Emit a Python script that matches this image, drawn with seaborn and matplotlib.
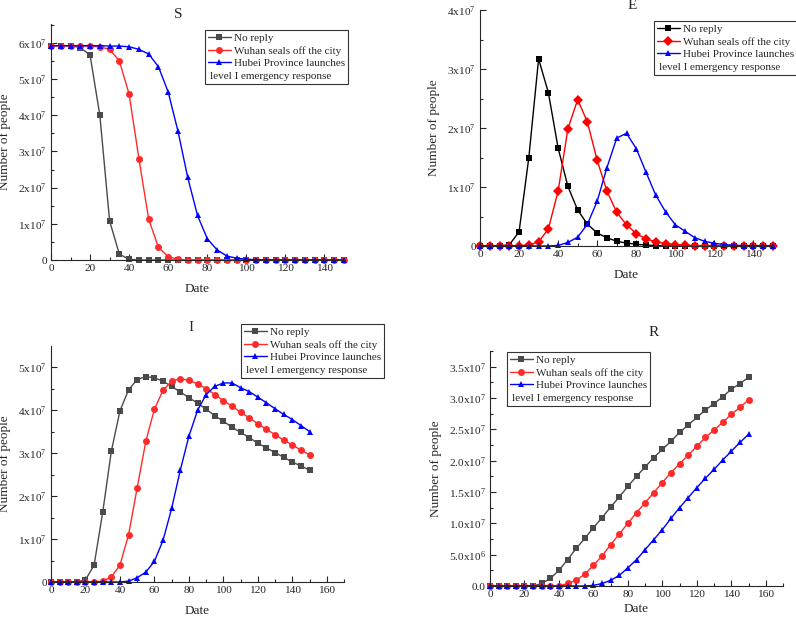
import numpy as np
import pandas as pd
import seaborn as sns
import matplotlib
matplotlib.use('Agg')
import matplotlib.pyplot as plt
from matplotlib.lines import Line2D
from matplotlib.ticker import MultipleLocator, FuncFormatter

# days
days = list(range(0, 155, 5))

# S panel (x1e7)
s_no = [5.92, 5.92, 5.92, 5.87, 5.66, 4.0, 1.08, 0.16, 0.02] + [0.0] * 22
s_wuhan = [5.92, 5.92, 5.92, 5.92, 5.91, 5.89, 5.82, 5.5, 4.58, 2.8, 1.13, 0.35, 0.09, 0.02] + [0.0] * 17
s_hubei = [5.92, 5.92, 5.92, 5.92, 5.92, 5.92, 5.91, 5.91, 5.89, 5.82, 5.69, 5.34, 4.64, 3.56,
           2.28, 1.23, 0.59, 0.28, 0.11, 0.05, 0.02, 0.01] + [0.0] * 9

# E panel
e_no = [0, 0, 0, 0.02, 0.24, 1.5, 3.17, 2.6, 1.66, 1.01, 0.61, 0.37, 0.22, 0.14, 0.08, 0.05,
        0.03, 0.015, 0.008] + [0.0] * 12
e_wuhan = [0, 0, 0, 0, 0, 0.02, 0.07, 0.29, 0.93, 1.99, 2.48, 2.1, 1.45, 0.93, 0.57, 0.36, 0.21,
           0.12, 0.07, 0.04, 0.025, 0.015, 0.008] + [0.0] * 8
e_hubei = [0] * 8 + [0.01, 0.06, 0.15, 0.37, 0.76, 1.33, 1.83, 1.91, 1.65, 1.25, 0.86, 0.58, 0.36,
                     0.25, 0.14, 0.08, 0.045, 0.025, 0.012, 0.006, 0.003, 0, 0]

# I panel
i_no = [0, 0, 0, 0, 0.05, 0.39, 1.62, 3.04, 3.98, 4.47, 4.71, 4.78, 4.75, 4.67, 4.55, 4.42, 4.29,
        4.16, 4.02, 3.87, 3.74, 3.6, 3.48, 3.36, 3.23, 3.12, 3.01, 2.9, 2.79, 2.7, 2.6]
i_wuhan = [0] * 6 + [0.02, 0.12, 0.39, 1.1, 2.19, 3.27, 4.02, 4.46, 4.67, 4.73, 4.69, 4.61, 4.5,
                     4.36, 4.22, 4.09, 3.95, 3.82, 3.68, 3.55, 3.43, 3.3, 3.19, 3.07, 2.96]
i_hubei = [0] * 9 + [0.02, 0.1, 0.23, 0.48, 0.97, 1.71, 2.6, 3.39, 3.99, 4.36, 4.55, 4.63, 4.63,
                     4.52, 4.43, 4.3, 4.17, 4.03, 3.9, 3.78, 3.64, 3.5]

# R panel
r_no = [0] * 6 + [0.04, 0.12, 0.25, 0.42, 0.6, 0.76, 0.93, 1.09, 1.26, 1.42, 1.59, 1.75, 1.9, 2.05,
                  2.18, 2.31, 2.45, 2.57, 2.69, 2.81, 2.91, 3.02, 3.14, 3.23, 3.33]
r_wuhan = [0] * 9 + [0.04, 0.09, 0.19, 0.33, 0.48, 0.66, 0.83, 1.0, 1.17, 1.33, 1.49, 1.65, 1.81,
                     1.95, 2.09, 2.23, 2.37, 2.49, 2.61, 2.74, 2.85, 2.97]
r_hubei = [0] * 12 + [0.01, 0.04, 0.09, 0.17, 0.29, 0.42, 0.58, 0.74, 0.9, 1.08, 1.25, 1.41, 1.57,
                      1.72, 1.86, 2.01, 2.15, 2.29, 2.42]

labels = ['No reply', 'Wuhan seals off the city', 'Hubei Province launches']
extra_label = 'level I emergency response'

sns.set_style('ticks')
plt.rcParams['font.family'] = ['Liberation Serif', 'DejaVu Serif']
plt.rcParams['mathtext.fontset'] = 'custom'
plt.rcParams['mathtext.rm'] = 'Liberation Serif'
plt.rcParams['mathtext.it'] = 'Liberation Serif:italic'

DPI = 100
fig = plt.figure(figsize=(7.96, 6.18), dpi=DPI)
W, H = 796.0, 618.0
LEG_FS = 8.0


def fmt_sci(dec):
    def f(v, pos):
        if abs(v) < 1:
            return '0.0' if dec else '0'
        e = int(np.floor(np.log10(abs(v)) + 1e-9))
        m = v / 10 ** e
        ms = ('%.1f' % m) if dec else ('%d' % round(m))
        return r'$\mathrm{%sx10^{%d}}$' % (ms, e)
    return FuncFormatter(f)


panels = [
    # name, series, box(px l,t,r,b), xlim, ylim, y major, y minor, dec, grey, red marker, title pos, legend pos, xlabel pad
    ('S', [s_no, s_wuhan, s_hubei], (51, 24, 344, 260), 150, 6.52e7, 1e7, 0.5e7, False, '#4a4a4a', 'o', (0.433, 1.042), (205, 30), 7),
    ('E', [e_no, e_wuhan, e_hubei], (480, 10, 773, 246), 150, 4.0e7, 1e7, 0.5e7, False, '#000000', 'D', (0.519, 1.02), (654, 21), 7),
    ('I', [i_no, i_wuhan, i_hubei], (51, 346, 344, 582), 170, 5.49e7, 1e7, 0.5e7, False, '#4a4a4a', 'o', (0.478, 1.08), (241, 324), 7),
    ('R', [r_no, r_wuhan, r_hubei], (490, 351, 783, 586), 170, 3.75e7, 0.5e7, 0.25e7, True, '#4a4a4a', 'o', (0.56, 1.077), (507, 352), 3),
]

red_col = '#ff2a2a'
blue_col = '#0000ff'

for name, series, box, xmax, ymax, ymaj, ymin_, dec, grey, rmark, tpos, lpos, xpad in panels:
    l, t, r, b = box
    ax = fig.add_axes([l / W, 1 - b / H, (r - l) / W, (b - t) / H])
    rows = []
    for lab, vals in zip(labels, series):
        for d, v in zip(days, vals):
            rows.append({'Date': d, 'people': v * 1e7, 'scenario': lab})
    df = pd.DataFrame(rows)
    red = '#ff0000' if name == 'E' else red_col
    pal = {labels[0]: grey, labels[1]: red, labels[2]: blue_col}
    mk = {labels[0]: 's', labels[1]: rmark, labels[2]: '^'}
    sns.lineplot(data=df, x='Date', y='people', hue='scenario', style='scenario',
                 palette=pal, markers=mk, dashes=False, markersize=5,
                 linewidth=1.0, markeredgewidth=0, legend=False, ax=ax, clip_on=False)

    ax.set_xlim(0, xmax)
    ax.set_ylim(0, ymax)
    ax.xaxis.set_major_locator(MultipleLocator(20))
    ax.xaxis.set_minor_locator(MultipleLocator(10))
    ax.yaxis.set_major_locator(MultipleLocator(ymaj))
    ax.yaxis.set_minor_locator(MultipleLocator(ymin_))
    ax.yaxis.set_major_formatter(fmt_sci(dec))
    ax.tick_params(which='major', direction='in', length=4, width=0.8, labelsize=8.2, pad=3)
    ax.tick_params(which='minor', direction='in', length=2, width=0.8)
    sns.despine(ax=ax)
    for sp in ['left', 'bottom']:
        ax.spines[sp].set_linewidth(0.8)
    ax.set_xlabel('Date', fontsize=9.5, labelpad=xpad)
    ax.set_ylabel('Number of people', fontsize=9.5, labelpad=5)
    ax.text(tpos[0], tpos[1], name, transform=ax.transAxes, ha='center', va='center', fontsize=11)

    handles = ax.get_lines()[:3]
    hl = list(handles) + [Line2D([], [], linestyle='none')]
    leg = ax.legend(hl, labels + [extra_label], loc='upper left',
                    bbox_to_anchor=(lpos[0] / W, 1 - lpos[1] / H), bbox_transform=fig.transFigure,
                    borderaxespad=0, fontsize=LEG_FS, frameon=True, fancybox=False,
                    edgecolor='#333333', framealpha=1, handlelength=2.0, handletextpad=0.3,
                    labelspacing=0.25, borderpad=0.3)
    leg.get_frame().set_linewidth(0.8)
    # last row is plain text starting at the left edge: drop its empty handle box
    row = leg._legend_handle_box.get_children()[0].get_children()[3]
    row.get_children()[0].width = 0
    row.sep = 1

fig.savefig('out.png', dpi=DPI)
